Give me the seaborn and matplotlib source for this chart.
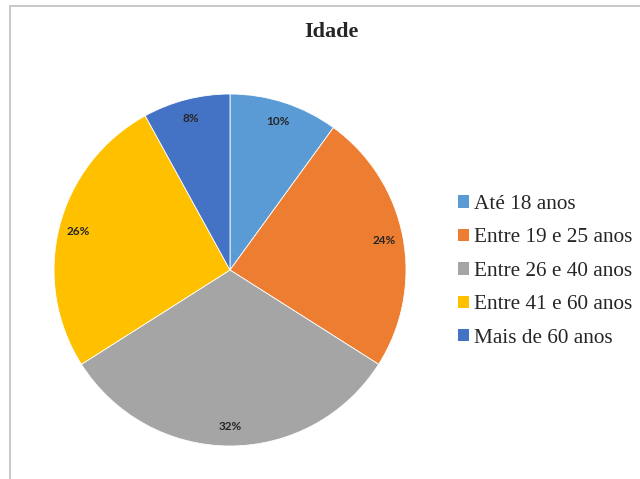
import seaborn as sns
import matplotlib.pyplot as plt
from matplotlib.patches import Rectangle, Patch

# Data
categories = ["Até 18 anos", "Entre 19 e 25 anos", "Entre 26 e 40 anos",
              "Entre 41 e 60 anos", "Mais de 60 anos"]
shares = [10, 24, 32, 26, 8]
colors = ["#5B9BD5", "#ED7D31", "#A5A5A5", "#FFC000", "#4472C4"]

sns.set_style("white")
palette = sns.color_palette(colors)

W, H = 640, 479
fig = plt.figure(figsize=(6.4, 4.79), dpi=100)

# chart frame (cropped at right/bottom)
fig.patches.append(Rectangle((9.5 / W, -0.1), 1.2, (H - 5.5) / H + 0.1,
                             transform=fig.transFigure, fill=False,
                             edgecolor="#BDBDBD", linewidth=1.2))

cx, cy, r = 230, 270, 176
ax = fig.add_axes([(cx - r) / W, (H - cy - r) / H, 2 * r / W, 2 * r / H])
wedges, texts, autotexts = ax.pie(
    shares, colors=palette, startangle=90, counterclock=False,
    autopct="%d%%", pctdistance=0.89,
    wedgeprops=dict(edgecolor="white", linewidth=0.6),
    textprops=dict(family="Lato", fontsize=8.5, fontweight="bold", color="#262626"))
ax.set_xlim(-1, 1)
ax.set_ylim(-1, 1)

fig.text(331.5 / W, 1 - 32 / H, "Idade", ha="center", va="center",
         family="Liberation Serif", fontweight="bold", fontsize=16)

handles = [Patch(facecolor=c, edgecolor="none") for c in palette]
fig.legend(handles, categories, loc="upper left",
           bbox_to_anchor=(458 / W, 1 - 195 / H), frameon=False,
           prop=dict(family="Liberation Serif", size=15.3),
           handlelength=0.52, handleheight=0.52, handletextpad=0.25,
           labelspacing=0.68, borderpad=0, borderaxespad=0)

plt.savefig("out.png", dpi=100)
